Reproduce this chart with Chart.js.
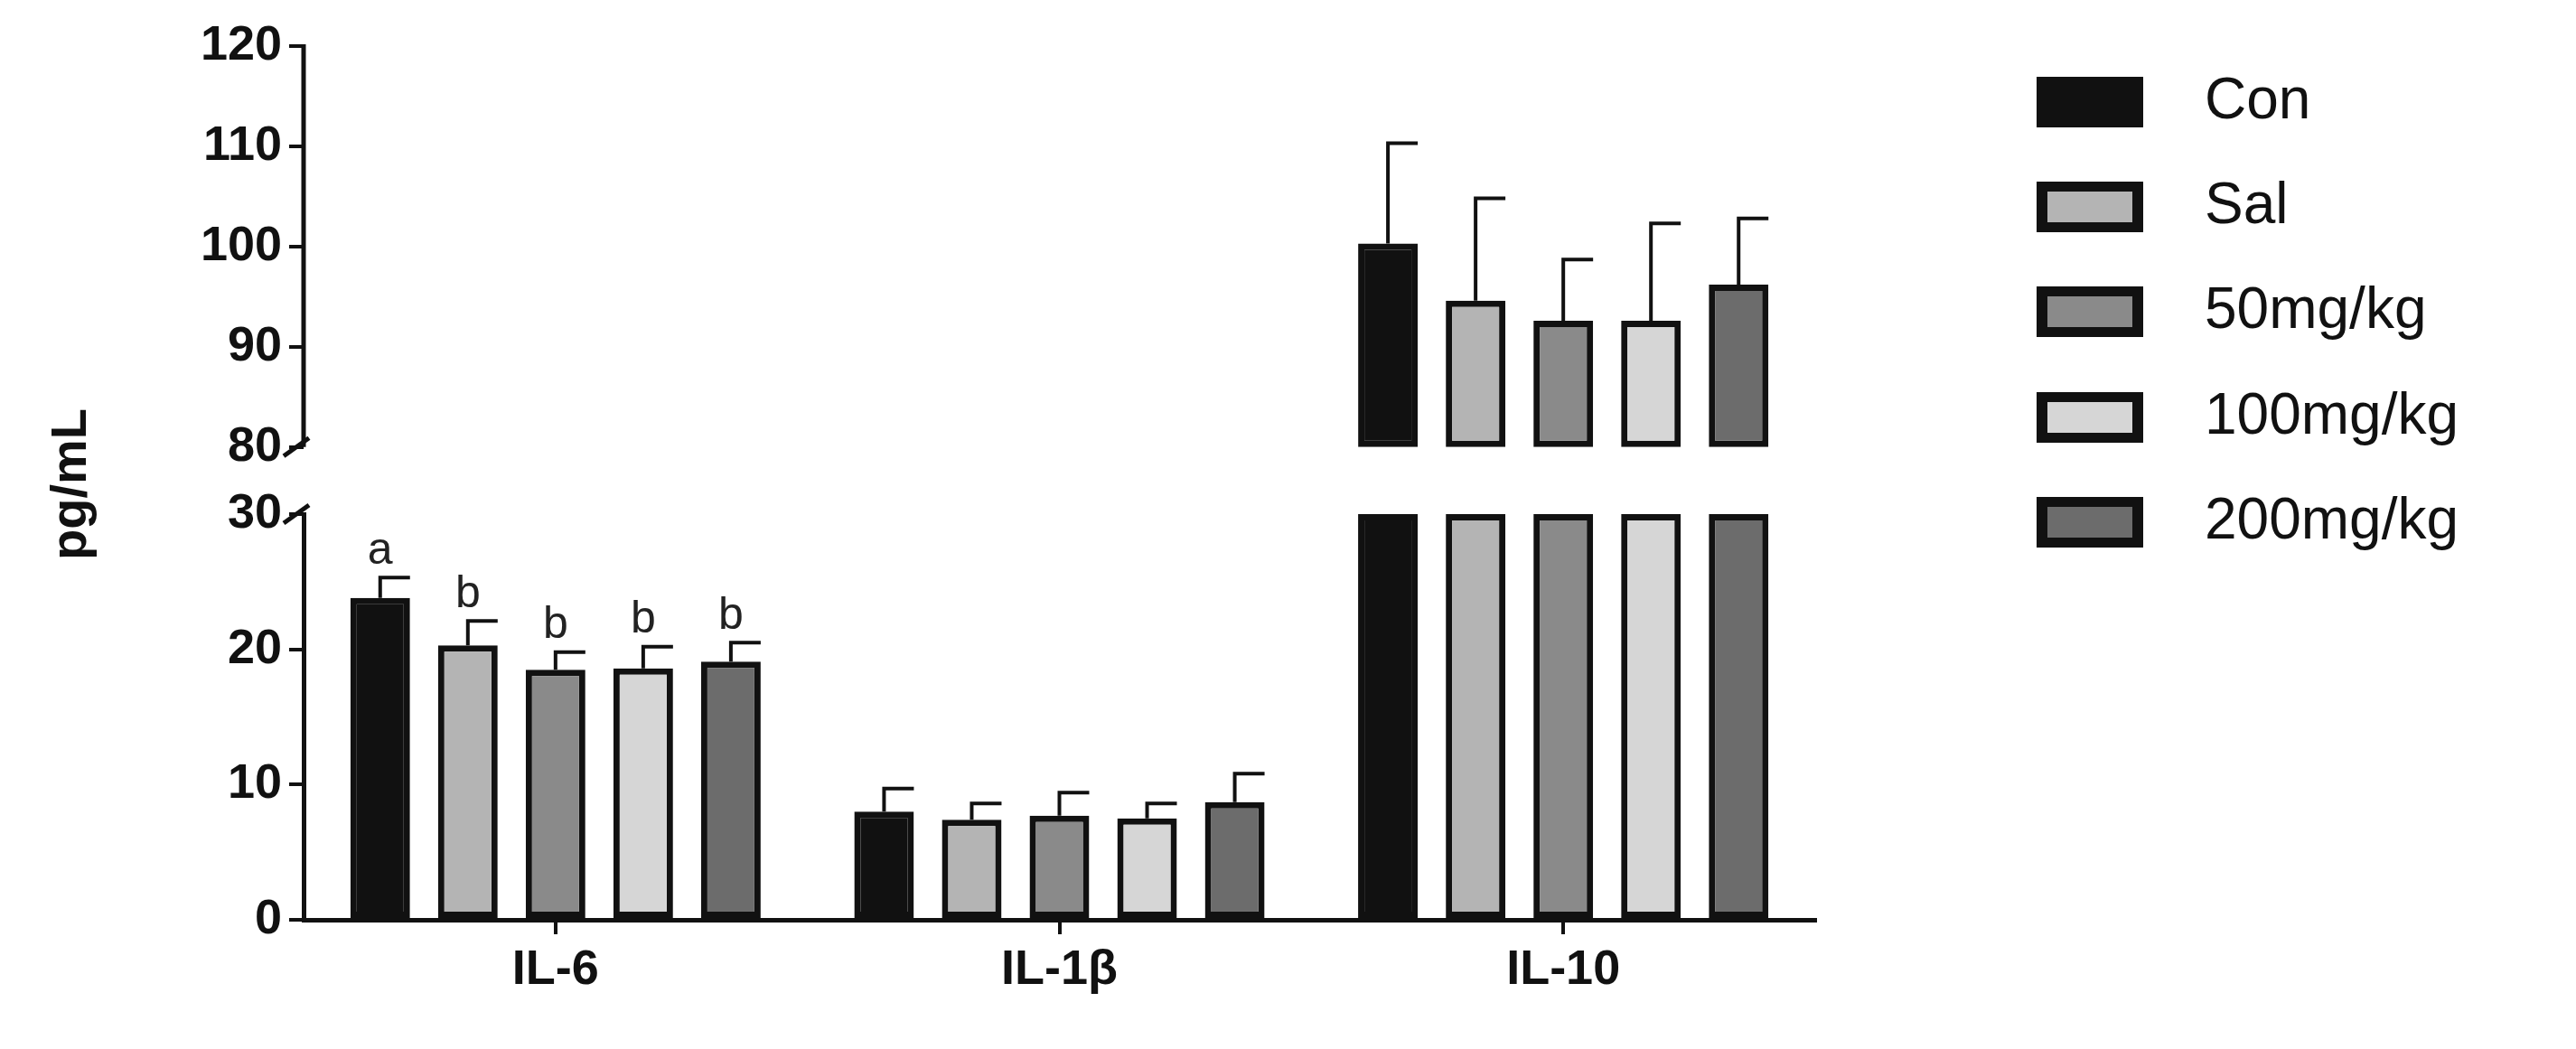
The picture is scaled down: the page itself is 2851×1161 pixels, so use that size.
<!DOCTYPE html>
<html><head><meta charset="utf-8">
<script src="https://cdn.jsdelivr.net/npm/chart.js@4.4.1/dist/chart.umd.min.js"></script>
<style>html,body{margin:0;background:#fff}#w{width:2851px;height:1161px}</style>
</head><body><div id="w"><canvas id="c"></canvas></div>
<script>
const categories = ['IL-6', 'IL-1β', 'IL-10'];
const groups = ['Con', 'Sal', '50mg/kg', '100mg/kg', '200mg/kg'];
const colors = ['#111111', '#b4b4b4', '#8a8a8a', '#d6d6d6', '#6c6c6c'];
const means = [
  [23.8, 8.0, 100.3],
  [20.3, 7.4, 94.6],
  [18.5, 7.7, 92.6],
  [18.6, 7.5, 92.6],
  [19.1, 8.7, 96.2]
];
const errTops = [
  [25.3, 9.7, 110.3],
  [22.1, 8.6, 104.8],
  [19.8, 9.4, 98.7],
  [20.2, 8.6, 102.3],
  [20.5, 10.8, 102.8]
];
const letters = ['a', 'b', 'b', 'b', 'b'];
const lowerTicks = [0, 10, 20, 30];
const upperTicks = [80, 90, 100, 110, 120];
const LOW_MAX = 30, UP_MIN = 80;

const datasets = [];
groups.forEach((g, i) => {
  datasets.push({label: g, yAxisID: 'yLow', stack: 's' + i, backgroundColor: colors[i], borderColor: '#111', borderWidth: 7, borderSkipped: false,
    data: means[i].map(v => [0, Math.min(v, LOW_MAX)]), errs: errTops[i], means: means[i], part: 'low', gi: i});
  datasets.push({label: g + '_up', yAxisID: 'yUp', stack: 's' + i, backgroundColor: colors[i], borderColor: '#111', borderWidth: 7, borderSkipped: false,
    data: means[i].map(v => v >= UP_MIN ? [UP_MIN, v] : null), errs: errTops[i], means: means[i], part: 'up', gi: i});
});

const font = {family: 'Liberation Sans, Arial', weight: 'bold', size: 54};

const deco = {
  id: 'deco',
  afterDatasetsDraw(chart) {
    const ctx = chart.ctx, yL = chart.scales.yLow, yU = chart.scales.yUp;
    ctx.save();
    ctx.strokeStyle = '#111'; ctx.lineWidth = 4; ctx.lineCap = 'butt';
    chart.data.datasets.forEach((ds, di) => {
      const meta = chart.getDatasetMeta(di);
      meta.data.forEach((bar, k) => {
        if (!ds.data[k]) return;
        const m = ds.means[k], e = ds.errs[k];
        if (ds.part === 'low' && m > LOW_MAX) return;
        const sc = ds.part === 'low' ? yL : yU;
        const y0 = sc.getPixelForValue(m), y1 = sc.getPixelForValue(e);
        const cx = bar.x, hw = bar.width / 2;
        ctx.beginPath(); ctx.moveTo(cx, y0); ctx.lineTo(cx, y1);
        ctx.moveTo(cx - 2, y1); ctx.lineTo(cx + hw, y1); ctx.stroke();
        if (ds.part === 'low' && k === 0) {
          ctx.fillStyle = '#222'; ctx.font = '50px Liberation Sans, Arial';
          ctx.textAlign = 'center'; ctx.textBaseline = 'bottom';
          ctx.fillText(letters[ds.gi], cx, y1 - 4);
        }
      });
    });
    const ax = chart.chartArea.left;
    ctx.lineWidth = 5;
    ctx.beginPath(); ctx.moveTo(ax, yU.getPixelForValue(120) - 2); ctx.lineTo(ax, yU.getPixelForValue(80)); ctx.stroke();
    [yU.getPixelForValue(80), yL.getPixelForValue(30)].forEach(y => {
      ctx.beginPath(); ctx.moveTo(ax - 22, y + 10); ctx.lineTo(ax + 6, y - 10); ctx.stroke();
    });
    ctx.fillStyle = '#111'; ctx.font = 'bold 56px Liberation Sans, Arial';
    ctx.translate(80, 536); ctx.rotate(-Math.PI / 2);
    ctx.textAlign = 'center'; ctx.textBaseline = 'middle';
    ctx.fillText('pg/mL', 0, 0);
    ctx.restore();
    ctx.save();
    const ys = [113, 229, 345, 462, 578];
    groups.forEach((g, i) => {
      ctx.fillStyle = '#111'; ctx.fillRect(2254, ys[i] - 28, 118, 56);
      if (i > 0) { ctx.fillStyle = colors[i]; ctx.fillRect(2266, ys[i] - 17, 94, 34); }
      ctx.fillStyle = '#111'; ctx.font = '64px Liberation Sans, Arial';
      ctx.textAlign = 'left'; ctx.textBaseline = 'middle';
      ctx.fillText(g, 2440, ys[i]);
    });
    ctx.restore();
  }
};

new Chart(document.getElementById('c'), {
  type: 'bar',
  data: {labels: categories, datasets},
  plugins: [deco],
  options: {
    responsive: true, maintainAspectRatio: false, animation: false,
    layout: {padding: {top: 51, right: 842, left: 0, bottom: 0}},
    barPercentage: 0.68, categoryPercentage: 0.87,
    plugins: {legend: {display: false}, tooltip: {enabled: false}},
    scales: {
      x: {
        grid: {drawOnChartArea: false, offset: false, tickLength: 16, color: '#111', lineWidth: 4},
        border: {color: '#111', width: 5},
        ticks: {font, color: '#111', padding: 8},
        afterFit(s) { s.height = 143; }
      },
      yLow: {
        type: 'linear', position: 'left', stack: 'v', stackWeight: 247, stacked: false,
        min: 0, max: LOW_MAX,
        afterBuildTicks(s) { s.ticks = lowerTicks.map(v => ({value: v})); },
        grid: {drawOnChartArea: false, tickLength: 16, color: '#111', lineWidth: 4},
        border: {color: '#111', width: 5},
        ticks: {font, color: '#111', padding: 8},
        afterFit(s) { s.width = 336; }
      },
      yUp: {
        type: 'linear', position: 'left', stack: 'v', stackWeight: 285, stacked: false,
        min: 73.3, max: 120,
        afterBuildTicks(s) { s.ticks = upperTicks.map(v => ({value: v})); },
        grid: {drawOnChartArea: false, tickLength: 16, color: '#111', lineWidth: 4},
        border: {display: false},
        ticks: {font, color: '#111', padding: 8},
        afterFit(s) { s.width = 336; }
      }
    }
  }
});
</script></body></html>
